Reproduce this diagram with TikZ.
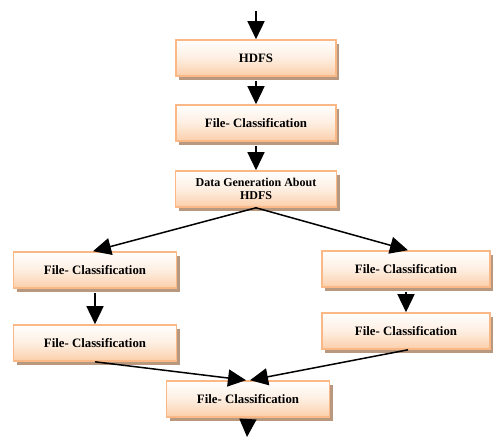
\documentclass[tikz,border=0pt]{standalone}
\usepackage{fontspec}
\setmainfont{Liberation Serif}
\usetikzlibrary{arrows.meta,shadows}
\definecolor{peachline}{HTML}{F9B886}
\definecolor{peachfill}{HTML}{FBCFAA}
\definecolor{shadowbrown}{HTML}{B8987E}
\tikzset{
  stagebox/.style={draw=peachline, line width=1.6pt, top color=white, bottom color=peachfill,
    middle color=peachfill!35, minimum height=36pt, inner sep=0pt, align=center,
    font=\fontsize{12.8}{13.5}\selectfont\bfseries,
    drop shadow={shadow xshift=3pt, shadow yshift=-4pt, fill=shadowbrown, opacity=1}},
  flow/.style={line width=1.5pt, -{Triangle[width=17pt,length=18pt]}}
}
\begin{document}
\begin{tikzpicture}[x=1pt,y=-1pt]
  \useasboundingbox (0,0) rectangle (494,437);
  % --- centre column ---
  \node[stagebox, minimum width=160pt] (hdfs) at (256,58) {HDFS};
  \node[stagebox, minimum width=160pt] (fcA) at (256,123) {File- Classification};
  \node[stagebox, minimum width=161pt, font=\fontsize{12}{13.5}\selectfont\bfseries] (datagen) at (256,189) {Data Generation About\\HDFS};
  % --- left branch ---
  \node[stagebox, minimum width=163pt] (fcL1) at (95,270) {File- Classification};
  \node[stagebox, minimum width=163pt] (fcL2) at (95,343) {File- Classification};
  % --- right branch ---
  \node[stagebox, minimum width=168pt] (fcR1) at (406,269) {File- Classification};
  \node[stagebox, minimum width=168pt] (fcR2) at (406,331) {File- Classification};
  % --- join ---
  \node[stagebox, minimum width=163pt] (fcJoin) at (248,399) {File- Classification};
  \coordinate (inTop) at (256,11);
  \coordinate (outBot) at (247,437);

  % === connectors ===
  \draw[flow] (inTop) -- (hdfs.north);
  \draw[flow, shorten <=4pt] (hdfs.south) -- (fcA.north);
  \draw[flow, shorten <=4pt] (fcA.south) -- (datagen.north);
  \draw[flow] (datagen.south) -- ([xshift=-2pt]fcL1.north);
  \draw[flow] (datagen.south) -- ([xshift=2pt]fcR1.north);
  \draw[flow, shorten <=4pt] (fcL1.south) -- (fcL2.north);
  \draw[flow, shorten <=4pt] (fcR1.south) -- (fcR2.north);
  \draw[flow] (fcL2.south) -- ([xshift=-2pt]fcJoin.north);
  \draw[flow] ([xshift=2pt]fcR2.south) -- ([xshift=2pt]fcJoin.north);
  \draw[flow, shorten <=4pt] (fcJoin.south) -- (outBot);
\end{tikzpicture}
\end{document}
